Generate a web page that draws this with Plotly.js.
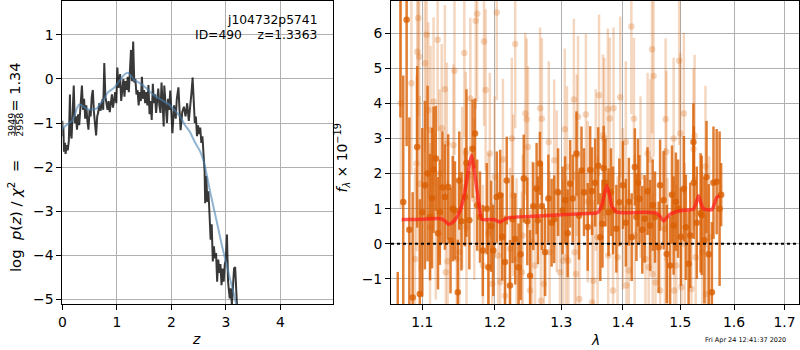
<!DOCTYPE html>
<html>
<head>
<meta charset="utf-8">
<script src="https://cdn.plot.ly/plotly-3.0.1.min.js"></script>
<style>html,body{margin:0;padding:0;background:#fff;}#chart{width:800px;height:350px;}</style>
</head>
<body>
<div id="chart"></div>
<script>
// ---- left panel: p(z) ----
const pzZ = [0.00,0.01,0.02,0.03,0.05,0.06,0.08,0.10,0.12,0.14,0.15,0.17,0.19,0.21,0.23,0.25,0.27,0.29,0.31,0.33,0.36,0.38,0.40,0.42,0.44,0.46,0.48,0.50,0.52,0.54,0.56,0.58,0.60,0.62,0.64,0.66,0.68,0.70,0.72,0.74,0.75,0.77,0.79,0.81,0.83,0.85,0.87,0.89,0.91,0.93,0.95,0.97,0.99,1.01,1.03,1.06,1.08,1.10,1.12,1.14,1.16,1.18,1.20,1.22,1.24,1.26,1.28,1.30,1.32,1.34,1.36,1.38,1.40,1.42,1.44,1.46,1.48,1.50,1.52,1.54,1.56,1.58,1.60,1.62,1.64,1.66,1.68,1.70,1.72,1.76,1.78,1.80,1.82,1.84,1.86,1.87,1.90,1.92,1.94,1.96,1.98,2.00,2.02,2.05,2.08,2.10,2.13,2.15,2.17,2.20,2.23,2.26,2.29,2.32,2.35,2.37,2.39,2.41,2.43,2.45,2.47,2.49,2.51,2.53,2.55,2.57,2.59,2.61,2.62,2.64,2.66,2.68,2.70,2.72,2.74,2.76,2.78,2.80,2.82,2.84,2.86,2.88,2.90,2.92,2.94,2.96,2.98,3.00,3.02,3.04,3.07,3.09,3.11,3.13,3.15,3.17,3.19,3.21];
const pzLog = [-0.95,-1.30,-1.10,-1.65,-1.45,-1.70,-1.50,-1.62,-1.40,-0.35,-1.20,-1.35,-0.75,-0.15,-1.00,-0.85,-1.15,-0.80,-1.05,-0.65,-0.15,-0.70,-0.45,-0.90,-0.60,-0.95,-1.15,-0.70,-0.85,-0.40,-0.25,-0.75,-1.00,-1.28,-0.85,-0.75,-0.55,-0.72,-0.60,-0.45,-0.70,0.36,-0.40,-0.55,-0.70,-0.50,-0.75,-0.55,-0.35,-0.65,-0.50,-0.30,-0.55,0.26,-0.20,0.11,-0.50,-0.15,0.00,-0.40,-0.05,-0.25,0.05,-0.30,0.20,0.66,-0.05,0.85,-0.08,0.00,-0.35,-0.25,-0.60,-0.30,-0.50,0.05,-0.45,-0.25,-0.55,-0.30,-0.60,-0.14,-0.80,-0.50,-0.93,-0.11,-0.55,-0.35,-0.77,-0.22,-0.60,-0.77,-0.08,-0.70,-1.08,-0.15,-0.60,-1.00,-0.45,-0.70,-0.26,-0.80,-1.23,-0.60,-0.90,-0.45,-0.19,-0.70,-1.16,-0.75,-0.63,-0.85,-0.55,-0.95,-0.60,-0.30,0.03,-0.45,-1.00,-0.85,-1.30,-1.05,-1.25,-1.10,-1.45,-1.30,-1.83,-2.10,-2.82,-2.20,-2.79,-2.55,-3.07,-3.65,-3.30,-4.14,-3.80,-4.07,-3.95,-4.60,-4.10,-4.40,-4.20,-4.68,-4.30,-4.60,-4.20,-4.10,-3.53,-4.60,-4.98,-4.75,-5.13,-4.80,-4.30,-4.27,-5.15,-5.30];
const fitZ = [0.00,0.02,0.10,0.17,0.22,0.27,0.31,0.36,0.45,0.54,0.63,0.70,0.76,0.84,0.95,1.06,1.14,1.20,1.24,1.33,1.43,1.55,1.67,1.80,1.95,2.08,2.16,2.25,2.34,2.43,2.53,2.60,2.65,2.71,2.77,2.83,2.89,2.95,2.99,3.04,3.08,3.13,3.17,3.21];
const fitLog = [-1.15,-1.11,-1.02,-0.96,-0.85,-0.66,-0.58,-0.60,-0.68,-0.70,-0.67,-0.55,-0.47,-0.30,-0.20,-0.02,0.10,0.14,0.10,-0.03,-0.10,-0.22,-0.36,-0.46,-0.57,-0.74,-0.85,-1.05,-1.20,-1.43,-1.65,-1.90,-2.18,-2.55,-2.89,-3.22,-3.57,-3.90,-4.10,-4.35,-4.56,-4.80,-5.01,-5.22];

// ---- right panel: spectrum ----
const darkLam = [1.0680,1.0715,1.0751,1.0795,1.0830,1.0873,1.0933,1.0967,1.1000,1.1035,1.1070,1.1103,1.1130,1.1150,1.1180,1.1210,1.1235,1.1270,1.1303,1.1348,1.1380,1.1410,1.1440,1.1480,1.1500,1.1530,1.1580,1.1600,1.1640,1.1685,1.1720,1.1750,1.1790,1.1830,1.1886,1.1910,1.1950,1.1980,1.2030,1.2080,1.2110,1.2150,1.2175,1.2223,1.2260,1.2300,1.2350,1.2380,1.2427,1.2480,1.2522,1.2570,1.2620,1.2640,1.2670,1.2700,1.2750,1.2800,1.2850,1.2890,1.2950,1.3020,1.3060,1.3100,1.3140,1.3180,1.3240,1.3280,1.3320,1.3360,1.3420,1.3460,1.3490,1.3540,1.3590,1.3625,1.3660,1.3680,1.3710,1.3760,1.3800,1.3835,1.3890,1.3940,1.4000,1.4050,1.4100,1.4148,1.4202,1.4230,1.4255,1.4280,1.4330,1.4370,1.4420,1.4467,1.4510,1.4550,1.4614,1.4640,1.4702,1.4757,1.4817,1.4850,1.4880,1.4920,1.4960,1.5010,1.5064,1.5100,1.5150,1.5180,1.5238,1.5245,1.5300,1.5370,1.5390,1.5440,1.5480,1.5520,1.5580,1.5610,1.5670,1.5725,1.5755];
const darkFlux = [-3.50,7.60,1.19,6.38,0.40,-1.53,2.76,-1.43,0.90,1.67,2.00,0.76,1.30,2.11,2.43,0.30,0.90,1.60,1.33,1.62,0.09,1.00,0.95,-1.38,1.80,0.64,1.33,2.30,0.67,2.71,3.14,1.10,0.76,-0.19,1.00,-0.67,0.50,-0.19,1.33,1.38,0.20,-0.52,1.80,-1.19,0.70,0.14,-0.67,-0.30,1.86,0.64,-0.91,1.07,1.57,0.67,2.29,1.07,-0.24,1.29,0.60,0.70,1.47,0.95,1.24,0.30,1.71,1.29,2.57,0.80,2.09,1.47,0.48,2.10,1.50,1.74,2.22,0.19,0.57,2.16,1.74,0.90,1.47,0.95,0.43,1.18,1.67,0.60,1.20,0.19,2.19,0.76,1.74,1.28,0.40,0.71,1.50,0.52,1.10,0.76,-0.10,1.67,1.24,-0.29,-0.62,1.40,0.52,1.20,1.00,0.20,1.57,0.47,-0.57,0.24,2.90,1.74,0.60,0.88,0.81,0.10,1.90,-0.30,-1.38,1.74,1.77,1.00,1.40];
const darkErr = [2.70,4.00,3.60,3.60,3.20,3.00,2.30,2.70,2.40,2.40,2.50,1.80,2.00,1.80,1.50,1.60,1.50,1.60,1.50,1.50,1.50,1.50,1.40,1.50,1.40,1.40,1.40,2.10,1.40,1.40,1.00,1.30,1.30,1.30,1.30,1.30,1.30,1.30,1.30,1.30,1.25,1.30,1.25,1.30,1.25,1.30,1.25,1.30,1.25,1.25,1.30,1.25,1.30,1.25,0.90,1.25,1.25,1.25,1.25,1.25,1.25,1.25,1.25,1.25,1.25,1.25,1.20,1.25,1.25,1.25,1.25,1.25,1.25,1.25,1.10,1.25,1.25,1.20,1.25,1.25,1.25,1.25,1.25,1.25,1.25,1.25,1.25,1.25,1.10,1.25,1.25,1.25,1.25,1.25,1.25,1.30,1.30,1.30,1.30,1.30,1.40,1.40,1.40,1.40,1.40,1.40,1.40,1.40,1.50,1.50,1.50,1.50,1.10,1.60,1.60,1.70,1.70,1.80,1.60,2.00,2.00,1.60,1.50,2.20,0.90];

const lightLam = [1.0720,1.0857,1.0904,1.0925,1.0933,1.0946,1.0960,1.0967,1.1035,1.1058,1.1080,1.1103,1.1110,1.1150,1.1180,1.1205,1.1230,1.1260,1.1303,1.1315,1.1330,1.1340,1.1420,1.1434,1.1465,1.1500,1.1540,1.1570,1.1590,1.1600,1.1654,1.1710,1.1730,1.1750,1.1831,1.1847,1.1870,1.1910,1.1930,1.1966,1.2000,1.2030,1.2050,1.2080,1.2120,1.2150,1.2223,1.2250,1.2270,1.2300,1.2320,1.2398,1.2410,1.2450,1.2470,1.2490,1.2522,1.2550,1.2597,1.2673,1.2685,1.2700,1.2730,1.2806,1.2820,1.2890,1.2930,1.2979,1.3027,1.3055,1.3075,1.3090,1.3110,1.3198,1.3210,1.3233,1.3245,1.3265,1.3285,1.3390,1.3420,1.3490,1.3512,1.3550,1.3580,1.3604,1.3667,1.3690,1.3748,1.3755,1.3780,1.3835,1.3843,1.3910,1.3955,1.4000,1.4049,1.4060,1.4100,1.4143,1.4186,1.4200,1.4300,1.4384,1.4422,1.4440,1.4470,1.4498,1.4510,1.4525,1.4559,1.4640,1.4725,1.4737,1.4750,1.4770,1.4880,1.4890,1.4928,1.4979,1.5000,1.5020,1.5064,1.5080,1.5202,1.5240,1.5260,1.5280,1.5400,1.5460,1.5473,1.5528];
const lightFlux = [4.00,4.57,-0.43,2.29,5.47,6.43,5.33,1.71,5.14,5.95,3.81,0.47,3.24,4.05,0.81,5.81,2.00,3.29,4.40,-0.81,2.86,-0.50,2.81,4.93,-0.43,-0.24,1.60,5.43,2.60,0.47,4.14,1.27,6.35,6.55,-0.62,5.76,4.38,0.29,2.57,-1.14,1.90,6.59,-0.33,-1.09,2.40,-1.48,-0.14,3.00,1.38,5.69,-0.43,-0.81,0.24,3.71,3.55,2.76,-1.33,0.05,-0.62,3.86,-1.62,3.56,-1.14,2.90,-0.24,2.38,1.50,-0.81,-0.48,3.26,-0.38,2.19,-0.48,4.11,-0.24,-0.86,2.52,3.62,-1.57,3.68,1.20,-1.67,-1.05,2.10,0.19,4.23,3.09,3.00,3.83,-0.33,3.57,-1.33,3.86,-0.38,4.17,1.00,2.90,-1.19,-0.76,6.19,3.56,0.24,1.90,-0.43,2.57,-0.67,2.40,5.54,-0.86,4.78,-1.10,-1.33,0.43,3.55,2.62,-0.43,3.00,-1.33,-0.62,5.21,3.14,-1.24,3.71,0.00,-1.29,2.70,3.08,-0.38,-0.24,2.20,-1.43,0.19];
const lightErr = [3.00,2.60,2.60,2.50,2.60,2.80,2.60,2.50,2.50,2.70,2.50,2.40,2.40,2.40,2.40,2.60,2.40,2.40,2.40,2.40,2.30,2.30,2.30,2.40,2.30,2.30,2.30,2.40,2.30,2.30,2.30,2.30,2.50,2.50,2.30,2.40,2.30,2.30,2.30,2.30,2.30,2.50,2.30,2.30,2.30,2.30,2.30,2.30,2.30,2.40,2.30,2.30,2.30,2.30,2.30,2.30,2.30,2.30,2.30,2.30,2.30,2.30,2.30,2.30,2.30,2.30,2.30,2.30,2.30,2.30,2.30,2.30,2.30,2.30,2.30,2.30,2.30,2.30,2.30,2.30,2.30,2.30,2.30,2.30,2.30,2.30,2.30,2.30,2.30,2.30,2.30,2.30,2.30,2.30,2.30,2.30,2.30,2.30,2.30,2.50,2.30,2.30,2.30,2.30,2.30,2.30,2.30,2.40,2.30,2.30,2.30,2.30,2.30,2.30,2.30,2.30,2.30,2.30,2.30,2.40,2.30,2.30,2.30,2.30,2.30,2.30,2.30,2.30,2.30,2.30,2.30,2.30];

const modelLam = [1.0731,1.0900,1.1013,1.1235,1.1300,1.1348,1.1400,1.1442,1.1509,1.1560,1.1603,1.1640,1.1672,1.1705,1.1743,1.1780,1.1814,1.1981,1.2030,1.2077,1.2150,1.2223,1.2522,1.2928,1.3404,1.3568,1.3610,1.3650,1.3690,1.3732,1.3775,1.3815,1.3898,1.4352,1.4584,1.4640,1.4701,1.4760,1.4817,1.4996,1.5238,1.5285,1.5331,1.5378,1.5424,1.5580,1.5630,1.5674,1.5722];
const modelFlux = [0.69,0.69,0.70,0.72,0.66,0.56,0.60,0.68,0.94,1.30,1.80,2.25,2.52,2.15,1.60,1.05,0.70,0.69,0.66,0.62,0.70,0.75,0.78,0.82,0.86,0.88,0.95,1.10,1.40,1.65,1.40,1.07,0.90,0.90,0.87,0.78,0.65,0.75,0.84,0.94,0.99,1.15,1.37,1.15,0.99,0.97,1.15,1.32,1.37];

const zTicks = [0,1,2,3,4];
const pzTicks = [-5,-4,-3,-2,-1,0,1];
const lamTicks = [1.1,1.2,1.3,1.4,1.5,1.6,1.7];
const lamTickText = ['1.1','1.2','1.3','1.4','1.5','1.6','1.7'];
const fluxTicks = [-1,0,1,2,3,4,5,6];

const FONT = 'DejaVu Sans, sans-serif';
const FS = 13.9;
const gridC = '#b0b0b0';
const dom = [1-304/350, 1-1/350];

function axisBase(extra){
  return Object.assign({
    showgrid:true, gridcolor:gridC, gridwidth:1,
    zeroline:false, showline:true, mirror:true, linecolor:'#000', linewidth:1,
    ticks:'outside', ticklen:5, tickwidth:1, tickcolor:'#000',
    tickfont:{family:FONT, size:FS, color:'#000'}
  }, extra);
}

const dark = 'rgba(217,95,2,0.8)';
const light = 'rgba(217,95,2,0.25)';

const traces = [
  {x:pzZ, y:pzLog, xaxis:'x', yaxis:'y', mode:'lines', type:'scatter',
   line:{color:'rgba(0,0,0,0.78)', width:2}, hoverinfo:'skip'},
  {x:fitZ, y:fitLog, xaxis:'x', yaxis:'y', mode:'lines', type:'scatter',
   line:{color:'rgba(70,130,180,0.6)', width:2, shape:'spline', smoothing:0.6}, hoverinfo:'skip'},
  {x:lightLam, y:lightFlux, xaxis:'x2', yaxis:'y2', mode:'markers', type:'scatter',
   marker:{color:light, size:6.5},
   error_y:{type:'data', array:lightErr, visible:true, color:light, thickness:2.5, width:0}, hoverinfo:'skip'},
  {x:darkLam, y:darkFlux, xaxis:'x2', yaxis:'y2', mode:'markers', type:'scatter',
   marker:{color:dark, size:6.5},
   error_y:{type:'data', array:darkErr, visible:true, color:dark, thickness:2.5, width:0}, hoverinfo:'skip'},
  {x:modelLam, y:modelFlux, xaxis:'x2', yaxis:'y2', mode:'lines', type:'scatter',
   line:{color:'rgba(255,25,25,0.7)', width:3.5, shape:'spline', smoothing:0.5}, hoverinfo:'skip'}
];

const NB = '\u00a0';
const layout = {
  width:800, height:350,
  margin:{l:0,r:0,t:0,b:0},
  paper_bgcolor:'#fff', plot_bgcolor:'#fff',
  showlegend:false,
  font:{family:FONT, size:FS, color:'#000'},
  xaxis: axisBase({domain:[62.3/800, 333.3/800], range:[0,4.97], tickvals:zTicks, anchor:'y'}),
  yaxis: axisBase({domain:dom, range:[-5.107,1.77], tickvals:pzTicks, anchor:'x'}),
  xaxis2: axisBase({domain:[391/800, 799/800], type:'log', range:[Math.log10(1.0594), Math.log10(1.730)],
                    tickvals:lamTicks, ticktext:lamTickText, anchor:'y2'}),
  yaxis2: axisBase({domain:dom, range:[-1.714,6.914], tickvals:fluxTicks, anchor:'x2'}),
  shapes:[
    {type:'line', xref:'x2 domain', x0:0, x1:1, yref:'y2', y0:0, y1:0, layer:'above',
     line:{color:'#000', width:2, dash:'dot'}},
    {type:'line', xref:'paper', yref:'paper', x0:15.2/800, x1:15.2/800, y0:1-134/350, y1:1-115/350,
     line:{color:'#000', width:0.8}}
  ],
  annotations:[
    {xref:'paper', yref:'paper', x:319/800, y:1-20/350, xanchor:'right', yanchor:'middle',
     text:'j104732p5741', showarrow:false, font:{family:FONT, size:12.3, color:'#000'}},
    {xref:'paper', yref:'paper', x:319/800, y:1-35/350, xanchor:'right', yanchor:'middle',
     text:'ID=490'+NB+NB+NB+NB+'z=1.3363', showarrow:false, font:{family:FONT, size:12.3, color:'#000'}},
    {xref:'paper', yref:'paper', x:196.5/800, y:1-339/350, xanchor:'center', yanchor:'middle',
     text:'<i>z</i>', showarrow:false, font:{family:FONT, size:FS, color:'#000'}},
    {xref:'paper', yref:'paper', x:595/800, y:1-340/350, xanchor:'center', yanchor:'middle',
     text:'<i>λ</i>', showarrow:false, font:{family:FONT, size:FS, color:'#000'}},
    {xref:'paper', yref:'paper', x:14/800, y:1-216/350, xanchor:'center', yanchor:'middle', textangle:-90,
     text:'log'+NB+NB+'<i>p</i>(<i>z</i>)'+NB+'/'+NB+'<i>χ</i><sup>2</sup>'+NB+NB+'=', showarrow:false, font:{family:FONT, size:14.8, color:'#000'}},
    {xref:'paper', yref:'paper', x:11.3/800, y:1-124.5/350, xanchor:'center', yanchor:'middle', textangle:-90,
     text:'3949', showarrow:false, font:{family:FONT, size:9.5, color:'#000'}},
    {xref:'paper', yref:'paper', x:19.3/800, y:1-124.5/350, xanchor:'center', yanchor:'middle', textangle:-90,
     text:'2958', showarrow:false, font:{family:FONT, size:9.5, color:'#000'}},
    {xref:'paper', yref:'paper', x:14/800, y:1-87.5/350, xanchor:'center', yanchor:'middle', textangle:-90,
     text:'='+NB+'1.34', showarrow:false, font:{family:FONT, size:14.5, color:'#000'}},
    {xref:'paper', yref:'paper', x:342.5/800, y:1-158/350, xanchor:'center', yanchor:'middle', textangle:-90,
     text:'<i>f</i><sub><i>λ</i></sub> × 10<sup>−19</sup>', showarrow:false, font:{family:FONT, size:FS, color:'#000'}},
    {xref:'paper', yref:'paper', x:745/800, y:1-339.5/350, xanchor:'center', yanchor:'middle',
     text:'Fri Apr 24 12:41:37 2020', showarrow:false, font:{family:FONT, size:6.5, color:'#000'}}
  ]
};

Plotly.newPlot('chart', traces, layout, {staticPlot:true, displayModeBar:false});
</script>
</body>
</html>
